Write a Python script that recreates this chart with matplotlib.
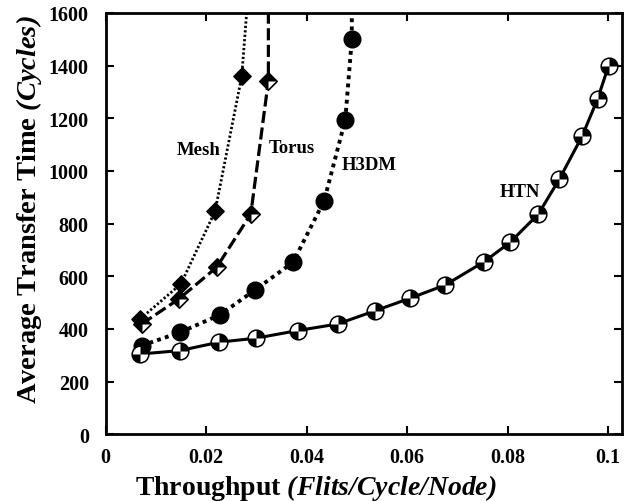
import numpy as np
import matplotlib.pyplot as plt
from matplotlib.path import Path

plt.rcParams['font.family'] = ['Liberation Serif', 'DejaVu Serif']
plt.rcParams['font.weight'] = 'bold'
# math text is only used for the italic unit parts of the axis labels
plt.rcParams['mathtext.fontset'] = 'custom'
plt.rcParams['mathtext.rm'] = 'Liberation Serif:bold:italic'
plt.rcParams['mathtext.bf'] = 'Liberation Serif:bold:italic'
plt.rcParams['mathtext.it'] = 'Liberation Serif:bold:italic'
plt.rcParams['mathtext.bfit'] = 'Liberation Serif:bold:italic'

# throughput (flits/cycle/node) and average transfer time (cycles)
mesh_x = [0.0069, 0.0150, 0.0218, 0.0271, 0.0295]
mesh_y = [438, 571, 847, 1359, 1950]
torus_x = [0.0072, 0.0146, 0.0221, 0.0289, 0.0324, 0.0324]
torus_y = [419, 514, 634, 836, 1342, 2000]
h3dm_x = [0.0072, 0.0148, 0.0228, 0.0298, 0.0373, 0.0435, 0.0477, 0.0490, 0.0490]
h3dm_y = [337, 387, 454, 549, 653, 887, 1194, 1500, 2000]
htn_x = [0.0069, 0.0148, 0.0226, 0.0299, 0.0382, 0.0462, 0.0536, 0.0605,
         0.0676, 0.0753, 0.0805, 0.0861, 0.0903, 0.0948, 0.0979, 0.1001]
htn_y = [305, 318, 350, 365, 394, 419, 469, 516, 567, 655, 729, 836, 969,
         1131, 1273, 1400]

x_ticks = [0, 0.02, 0.04, 0.06, 0.08, 0.1]
x_ticklabels = ['0', '0.02', '0.04', '0.06', '0.08', '0.1']
y_ticks = [0, 200, 400, 600, 800, 1000, 1200, 1400, 1600]

# custom markers: diamond outline, diamond minus lower-right quarter,
# quartered circle
diamond = Path([(0, 1), (1, 0), (0, -1), (-1, 0), (0, 1)], closed=True)
diamond_fill = Path([(0, 1), (1, 0), (0, 0), (0, -1), (-1, 0), (0, 1)],
                    closed=True)
quarters = Path.make_compound_path(Path.wedge(0, 90), Path.wedge(180, 270))

fig = plt.figure(figsize=(6.33, 5.02), dpi=100)
ax = fig.add_axes([0.1667, 0.1327, 0.8155, 0.8398])

ms = 12.5
# Mesh
ax.plot(mesh_x, mesh_y, color='black', lw=2.0, dashes=(0.8, 0.8),
        marker=diamond, ms=ms, mfc='black', mec='black', mew=1, zorder=3)
# Torus
ax.plot(torus_x, torus_y, color='black', lw=2.3, dashes=(3.8, 1.4),
        marker=diamond, ms=ms, mfc='white', mec='black', mew=1.2, zorder=3)
ax.plot(torus_x, torus_y, ls='none', marker=diamond_fill, ms=ms,
        mfc='black', mew=0, zorder=3)
# H3DM
ax.plot(h3dm_x, h3dm_y, color='black', lw=2.8, dashes=(1.0, 1.1),
        marker='o', ms=12, mfc='black', mec='black', zorder=4)
# HTN
ax.plot(htn_x, htn_y, color='black', lw=2.2, ls='-',
        marker='o', ms=12, mfc='white', mec='black', mew=1.1, zorder=5)
ax.plot(htn_x, htn_y, ls='none', marker=quarters, ms=12,
        mfc='black', mew=0, zorder=5)

ax.text(0.0186, 1083, 'Mesh', fontsize=13.5, ha='center', va='center')
ax.text(0.0370, 1087, 'Torus', fontsize=13.5, ha='center', va='center')
ax.text(0.0524, 1023, 'H3DM', fontsize=13.5, ha='center', va='center')
ax.text(0.0825, 920, 'HTN', fontsize=13.5, ha='center', va='center')

ax.set_xlim(0, 0.1027)
ax.set_ylim(0, 1600)
ax.set_xticks(x_ticks)
ax.set_xticklabels(x_ticklabels)
ax.set_yticks(y_ticks)
ax.tick_params(direction='in', top=True, right=True, length=6, width=1.5,
               labelsize=14.5)
ax.tick_params(axis='x', pad=9)
ax.tick_params(axis='y', pad=12)
for s in ax.spines.values():
    s.set_linewidth(2)

ax.set_xlabel(r'Throughput $(Flits/Cycle/Node)$', fontsize=20,
              fontweight='bold')
ax.set_ylabel(r'Average Transfer Time $(Cycles)$', fontsize=20.5,
              fontweight='bold')
ax.xaxis.set_label_coords(0.408, -0.09)
ax.yaxis.set_label_coords(-0.12, 0.535)

fig.savefig('out.png', dpi=100)
